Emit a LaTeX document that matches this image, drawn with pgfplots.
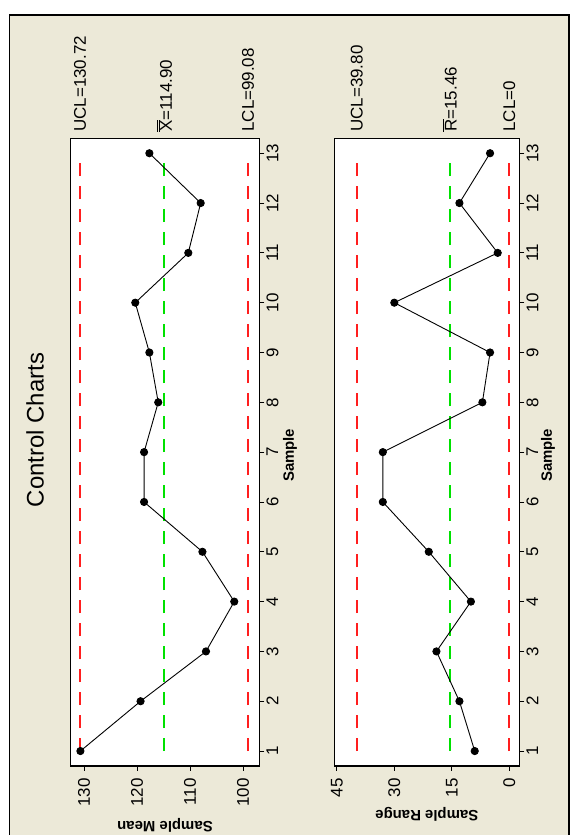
\documentclass[border=0pt]{standalone}
\usepackage{pgfplots}
\pgfplotsset{compat=1.18}
\usepackage{fontspec}
\setmainfont{Liberation Sans}
\definecolor{bg}{RGB}{236,233,216}
\definecolor{ucl}{RGB}{255,30,30}
\definecolor{cl}{RGB}{0,225,0}
\newcommand{\tfont}{\fontsize{17}{20}\selectfont}
\newcommand{\lfont}{\bfseries\fontsize{15}{18}\selectfont}
\pgfplotsset{
  cc/.style={
    scale only axis,
    anchor=south west,
    x dir=reverse,
    ymin=0.7, ymax=13.3,
    ytick={1,2,...,13},
    tick align=outside,
    xtick pos=left, ytick pos=right,
    yticklabel pos=right,
    major tick length=5bp,
    tick style={black, line width=0.8bp},
    axis line style={black, line width=1.2bp},
    axis background/.style={fill=white},
    ticklabel style={font=\tfont},
    xticklabel style={rotate=90, anchor=east, inner sep=0pt},
    yticklabel style={rotate=90, anchor=north, inner sep=0pt},
    xticklabel shift=7bp,
    yticklabel shift=2bp,
    clip=false,
    /pgf/number format/assume math mode=true,
    ylabel={Sample},
  },
  lim/.style={dash pattern=on 13bp off 10bp, line width=1.5bp, forget plot, mark=none},
  dat/.style={black, line width=0.9bp, mark=*, mark size=3.6bp, mark options={fill=black}},
}
\begin{document}
\begin{tikzpicture}[x=1bp,y=1bp]
\path[use as bounding box] (0,0) rectangle (573,835);
\fill[white] (0,0) rectangle (573,835);
\draw[fill=bg, line width=1.2bp] (9.3,-5) rectangle (569,820);
\node[rotate=90, font=\fontsize{24}{28}\selectfont] at (35,405) {Control Charts};

% Sample Mean chart
\begin{axis}[cc,
  at={(70.7bp,69bp)}, width=188.6bp, height=627.7bp,
  xmin=96.95, xmax=132.5, xtick={100,110,120,130},
  xlabel={Sample Mean},
  every axis x label/.style={at={(axis description cs:0.5,-0.094)}, rotate=180, anchor=center, font=\lfont},
  every axis y label/.style={at={(axis description cs:1.163,0.495)}, rotate=90, anchor=center, font=\lfont},
]
\addplot[lim, ucl] coordinates {(130.72,1) (130.72,13)};
\addplot[lim, cl] coordinates {(114.90,1) (114.90,13)};
\addplot[lim, ucl] coordinates {(99.08,1) (99.08,13)};
\addplot[dat] coordinates {
(130.67,1) (119.33,2) (107,3) (101.67,4) (107.67,5) (118.67,6) (118.67,7)
(116,8) (117.67,9) (120.33,10) (110.33,11) (108,12) (117.67,13)};
\node[rotate=90, anchor=west, inner sep=0pt, font=\tfont] at (axis cs:130.72,13.43) {UCL=130.72};
\node[rotate=90, anchor=west, inner sep=0pt, font=\tfont] at (axis cs:114.90,13.43) {$\overline{\overline{\mbox{X}}}$=114.90};
\node[rotate=90, anchor=west, inner sep=0pt, font=\tfont] at (axis cs:99.08,13.43) {LCL=99.08};
\end{axis}

% Sample Range chart
\begin{axis}[cc,
  at={(334.3bp,69bp)}, width=185bp, height=627.7bp,
  xmin=-2.64, xmax=45.67, xtick={0,15,30,45},
  xlabel={Sample Range},
  every axis x label/.style={at={(axis description cs:0.5,-0.0766)}, rotate=180, anchor=center, font=\lfont},
  every axis y label/.style={at={(axis description cs:1.155,0.495)}, rotate=90, anchor=center, font=\lfont},
]
\addplot[lim, ucl] coordinates {(39.80,1) (39.80,13)};
\addplot[lim, cl] coordinates {(15.46,1) (15.46,13)};
\addplot[lim, ucl] coordinates {(0,1) (0,13)};
\addplot[dat] coordinates {
(9,1) (13,2) (19,3) (10,4) (21,5) (33,6) (33,7)
(7,8) (5,9) (30,10) (3,11) (13,12) (5,13)};
\node[rotate=90, anchor=west, inner sep=0pt, font=\tfont] at (axis cs:39.80,13.43) {UCL=39.80};
\node[rotate=90, anchor=west, inner sep=0pt, font=\tfont] at (axis cs:15.46,13.43) {$\overline{\mbox{R}}$=15.46};
\node[rotate=90, anchor=west, inner sep=0pt, font=\tfont] at (axis cs:0,13.43) {LCL=0};
\end{axis}
\end{tikzpicture}
\end{document}
